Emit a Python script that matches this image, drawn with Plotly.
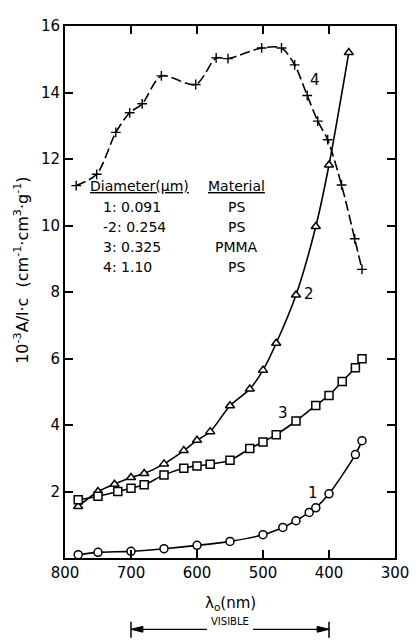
import plotly.graph_objects as go

# Wavelength (nm) and 10^-3 A/l.c values per sample
wl1 = [780, 750, 700, 650, 600, 550, 500, 470, 450, 430, 420, 400, 360, 350]
y1 = [0.10, 0.17, 0.20, 0.28, 0.38, 0.50, 0.70, 0.92, 1.12, 1.37, 1.51, 1.93, 3.11, 3.53]

wl2 = [780, 750, 725, 700, 680, 650, 620, 600, 580, 550, 520, 500, 480, 450, 420, 400, 370]
y2 = [1.55, 2.00, 2.22, 2.42, 2.54, 2.83, 3.23, 3.54, 3.80, 4.58, 5.08, 5.65, 6.46, 7.91, 9.97, 11.82, 15.20]

wl3 = [780, 750, 720, 700, 680, 650, 620, 600, 580, 550, 520, 500, 480, 450, 420, 400, 380, 360, 350]
y3 = [1.75, 1.86, 2.00, 2.10, 2.20, 2.50, 2.70, 2.77, 2.82, 2.94, 3.29, 3.49, 3.71, 4.12, 4.59, 4.89, 5.31, 5.72, 5.99]

wl4 = [783, 752, 723, 702, 683, 654, 602, 571, 553, 502, 472, 452, 433, 417, 402, 381, 361, 350]
y4 = [11.20, 11.54, 12.80, 13.39, 13.66, 14.50, 14.24, 15.04, 15.02, 15.34, 15.34, 14.83, 13.91, 13.14, 12.58, 11.22, 9.60, 8.68]

x_ticks = [800, 700, 600, 500, 400, 300]
y_ticks = [2, 4, 6, 8, 10, 12, 14, 16]

table_diam = ["1: 0.091", "-2: 0.254", "3: 0.325", "4: 1.10"]
table_mat = ["PS", "PS", "PMMA", "PS"]

FONT = "DejaVu Sans"
fig = go.Figure()

def add(x, y, symbol, size):
    fig.add_trace(go.Scatter(
        x=x, y=y, mode="lines+markers",
        line=dict(color="black", width=1.6, shape="spline", smoothing=0.8),
        marker=dict(symbol=symbol, size=size, color="white",
                    line=dict(color="black", width=1.5)),
        showlegend=False, cliponaxis=False))

add(wl1, y1, "circle", 8)
add(wl2, y2, "triangle-up", 8)
add(wl3, y3, "square", 8)
fig.add_trace(go.Scatter(
    x=wl4, y=y4, mode="lines+markers",
    line=dict(color="black", width=1.6, shape="spline", smoothing=0.8, dash="10px,4px"),
    marker=dict(symbol="cross-thin", size=7, line=dict(color="black", width=1.4)),
    showlegend=False, cliponaxis=False))

ann = []
# curve labels
for t, x, y in [("4", 421, 14.39), ("2", 430, 7.94), ("3", 469, 4.36), ("1", 424, 1.97)]:
    ann.append(dict(x=x, y=y, xref="x", yref="y", text=t, showarrow=False,
                    font=dict(size=15, family=FONT, color="black")))

# table
ann.append(dict(x=687, y=11.2, xref="x", yref="y", text="<u>Diameter(μm)</u>", showarrow=False,
                font=dict(size=14, family=FONT, color="black")))
ann.append(dict(x=540, y=11.2, xref="x", yref="y", text="<u>Material</u>", showarrow=False,
                font=dict(size=14, family=FONT, color="black")))
row_y = [10.55, 9.96, 9.35, 8.74]
for d, m, ry in zip(table_diam, table_mat, row_y):
    ann.append(dict(x=745, y=ry, xref="x", yref="y", text=d, showarrow=False, xanchor="left",
                    font=dict(size=14, family=FONT, color="black")))
    ann.append(dict(x=540, y=ry, xref="x", yref="y", text=m, showarrow=False,
                    font=dict(size=14, family=FONT, color="black")))

# y-axis title
ann.append(dict(x=-0.13, y=0.54, xref="paper", yref="paper", textangle=-90,
                xanchor="center", yanchor="middle",
                text="10<sup>-3</sup>A/l·c  (cm<sup>-1</sup>·cm<sup>3</sup>·g<sup>-1</sup>)",
                showarrow=False, font=dict(size=16, family=FONT, color="black")))
# x-axis title
ann.append(dict(x=550, y=-0.108, xref="x", yref="paper", text="λ<sub>o</sub>(nm)",
                showarrow=False, font=dict(size=15, family=FONT, color="black")))
ann.append(dict(x=550, y=-0.134, xref="x", yref="paper", text="VISIBLE",
                showarrow=False, font=dict(size=10, family=FONT, color="black")))

vy = -0.134
shapes = [
    # end bars
    dict(type="line", xref="x", yref="paper", x0=700, x1=700, y0=vy + 0.014, y1=vy - 0.016,
         line=dict(color="black", width=1.5)),
    dict(type="line", xref="x", yref="paper", x0=400, x1=400, y0=vy + 0.014, y1=vy - 0.016,
         line=dict(color="black", width=1.5)),
    # arrow shafts
    dict(type="line", xref="x", yref="paper", x0=700, x1=585, y0=vy, y1=vy,
         line=dict(color="black", width=1.3)),
    dict(type="line", xref="x", yref="paper", x0=515, x1=400, y0=vy, y1=vy,
         line=dict(color="black", width=1.3)),
    # arrowheads
    dict(type="path", xref="x", yref="paper",
         path=f"M 700,{vy} L 682,{vy + 0.0055} L 682,{vy - 0.0055} Z",
         fillcolor="black", line=dict(color="black", width=1)),
    dict(type="path", xref="x", yref="paper",
         path=f"M 400,{vy} L 418,{vy + 0.0055} L 418,{vy - 0.0055} Z",
         fillcolor="black", line=dict(color="black", width=1)),
]

fig.update_layout(
    width=410, height=632,
    margin=dict(l=57, r=18, t=9, b=82),
    plot_bgcolor="white", paper_bgcolor="white",
    annotations=ann, shapes=shapes,
    xaxis=dict(range=[800, 300], tickvals=x_ticks, ticktext=[str(v) for v in x_ticks],
               ticks="inside", ticklen=8, tickwidth=1.5, tickcolor="black",
               showline=True, linecolor="black", linewidth=2, mirror="ticks",
               showgrid=False, zeroline=False,
               tickfont=dict(size=15, family=FONT, color="black")),
    yaxis=dict(range=[0, 16], tickvals=y_ticks, ticktext=[str(v) for v in y_ticks],
               ticks="inside", ticklen=8, tickwidth=1.5, tickcolor="black",
               showline=True, linecolor="black", linewidth=2, mirror="ticks",
               showgrid=False, zeroline=False,
               tickfont=dict(size=15, family=FONT, color="black")),
)

fig.write_html("out.html")
